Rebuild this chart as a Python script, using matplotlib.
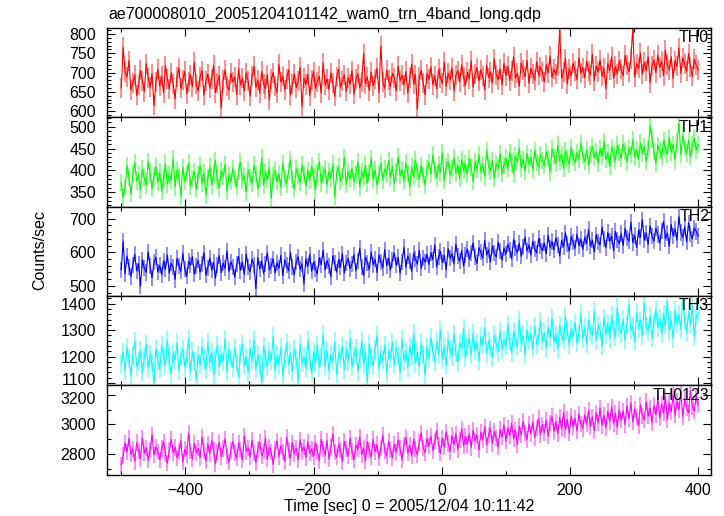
import numpy as np
import matplotlib
matplotlib.use('Agg')
from matplotlib import pyplot as plt
from matplotlib.ticker import MultipleLocator
import matplotlib.transforms as mtrans

# light curve: 3 s bins starting at t = -500 s
t_start = -500.0
bin_sec = 3.0

th0 = [660, 765, 702, 688, 731, 655, 672, 694, 641, 668, 706, 679, 650, 723, 686, 662, 697, 615, 675, 709,
       664, 691, 647, 718, 683, 657, 699, 671, 632, 688, 712, 659, 681, 703, 645, 676, 694, 663, 727, 670,
       652, 689, 705, 641, 678, 696, 660, 684, 719, 648, 673, 692, 608, 681, 707, 666, 654, 698, 675, 689,
       643, 710, 668, 685, 652, 699, 677, 639, 691, 716, 662, 680, 647, 703, 671, 658, 694, 629, 682, 700,
       666, 648, 721, 675, 690, 655, 684, 707, 642, 670, 697, 661, 678, 714, 612, 686, 669, 695, 640, 681,
       702, 659, 676, 691, 647, 724, 668, 683, 656, 699, 673, 638, 688, 709, 662, 679, 694, 651, 687, 670,
       705, 644, 682, 697, 660, 676, 749, 671, 689, 653, 701, 666, 684, 711, 648, 768, 675, 659, 706, 680,
       664, 698, 687, 652, 717, 679, 693, 668, 703, 646, 685, 722, 671, 694, 605, 688, 706, 674, 642, 697,
       683, 715, 669, 691, 657, 708, 686, 672, 727, 664, 699, 681, 712, 653, 693, 705, 676, 720, 688, 667,
       701, 684, 730, 662, 696, 713, 678, 707, 690, 655, 719, 687, 702, 673, 735, 694, 681, 709, 668, 724,
       692, 716, 679, 703, 741, 686, 698, 665, 725, 707, 689, 732, 672, 711, 697, 680, 728, 693, 714, 701,
       676, 720, 699, 743, 688, 708, 695, 717, 812, 684, 702, 736, 671, 710, 691, 725, 704, 682, 739, 698,
       713, 687, 729, 705, 694, 748, 679, 718, 701, 733, 690, 711, 658, 724, 706, 740, 685, 716, 697, 730,
       708, 691, 745, 719, 702, 736, 815, 688, 723, 711, 751, 696, 727, 705, 742, 674, 718, 733, 700, 746,
       713, 729, 692, 758, 720, 707, 741, 685, 731, 716, 764, 698, 738, 722, 703, 749, 715, 690, 734, 719,
       706]

th1 = [372, 338, 361, 410, 385, 347, 392, 418, 376, 389, 355, 403, 381, 366, 421, 394, 358, 387, 409, 373,
       396, 352, 384, 415, 369, 391, 378, 426, 362, 400, 386, 341, 407, 375, 393, 417, 364, 382, 398, 356,
       389, 411, 371, 395, 343, 384, 408, 367, 392, 423, 377, 360, 399, 386, 414, 353, 390, 374, 405, 381,
       363, 397, 419, 378, 387, 351, 402, 384, 370, 412, 393, 358, 381, 428, 366, 395, 379, 406, 336, 388,
       401, 374, 392, 361, 416, 383, 369, 397, 425, 380, 357, 404, 388, 372, 413, 391, 364, 399, 378, 410,
       386, 355, 394, 420, 371, 389, 403, 367, 398, 382, 415, 340, 393, 408, 376, 385, 430, 368, 397, 381,
       405, 374, 391, 419, 362, 398, 384, 412, 371, 395, 427, 380, 401, 366, 389, 416, 377, 403, 392, 423,
       384, 409, 370, 396, 431, 388, 402, 375, 417, 393, 362, 408, 386, 424, 398, 379, 411, 391, 367, 404,
       418, 392, 435, 401, 383, 413, 396, 440, 377, 409, 421, 389, 405, 429, 394, 412, 381, 425, 400, 415,
       391, 427, 408, 374, 419, 403, 436, 396, 414, 387, 445, 410, 399, 423, 382, 416, 405, 438, 393, 412,
       428, 404, 441, 417, 392, 433, 420, 451, 406, 425, 398, 439, 414, 430, 401, 446, 419, 408, 436, 423,
       411, 443, 427, 396, 449, 432, 416, 458, 421, 437, 404, 445, 428, 413, 452, 430, 418, 441, 426, 462,
       434, 420, 447, 412, 438, 455, 429, 443, 417, 450, 432, 466, 425, 440, 409, 453, 436, 423, 458, 441,
       428, 461, 445, 419, 452, 437, 470, 431, 448, 426, 463, 440, 455, 421, 449, 502, 472, 443, 416, 457,
       446, 430, 468, 451, 437, 475, 442, 459, 424, 465, 508, 436, 480, 453, 440, 469, 432, 458, 474, 447,
       460]

th2 = [548, 632, 536, 589, 557, 528, 563, 594, 545, 566, 499, 578, 552, 540, 601, 559, 524, 570, 585, 542,
       561, 533, 575, 549, 592, 538, 567, 555, 519, 582, 560, 544, 597, 551, 529, 573, 562, 587, 535, 558,
       576, 541, 565, 599, 532, 554, 583, 547, 570, 523, 561, 590, 539, 568, 552, 604, 543, 572, 557, 526,
       564, 588, 546, 571, 534, 595, 556, 542, 579, 563, 492, 585, 550, 574, 537, 566, 598, 548, 560, 581,
       539, 569, 553, 591, 530, 577, 562, 545, 600, 556, 533, 572, 587, 549, 566, 507, 580, 558, 593, 544,
       571, 550, 536, 584, 563, 607, 547, 575, 559, 528, 590, 567, 541, 578, 555, 596, 538, 569, 582, 551,
       566, 593, 545, 574, 612, 557, 531, 586, 569, 548, 601, 563, 579, 540, 592, 572, 554, 608, 560, 583,
       547, 576, 598, 561, 585, 538, 570, 615, 556, 589, 573, 543, 597, 580, 565, 606, 552, 584, 571, 594,
       563, 599, 578, 622, 557, 587, 603, 570, 591, 548, 611, 582, 596, 566, 624, 588, 574, 605, 559, 593,
       610, 579, 597, 628, 585, 567, 614, 600, 583, 635, 592, 608, 571, 619, 597, 586, 630, 603, 577, 612,
       595, 624, 606, 581, 638, 613, 599, 627, 588, 617, 645, 604, 622, 592, 633, 610, 598, 641, 619, 605,
       628, 596, 651, 614, 632, 607, 643, 621, 589, 636, 616, 658, 625, 603, 647, 630, 612, 654, 620, 639,
       609, 645, 627, 668, 618, 636, 601, 652, 631, 622, 675, 640, 614, 659, 633, 648, 605, 662, 637, 626,
       656, 620, 671, 642, 633, 689, 629, 650, 614, 666, 645, 697, 637, 658, 623, 679, 648, 634, 672, 653,
       627, 664, 692, 641, 657, 618, 683, 649, 670, 636, 706, 659, 644, 676, 631, 688, 655, 640, 673, 662,
       648]

th3 = [1172, 1215, 1148, 1236, 1190, 1127, 1204, 1258, 1163, 1181, 1222, 1139, 1197, 1245, 1156, 1210, 1176, 1098, 1229, 1185,
       1153, 1241, 1198, 1166, 1262, 1179, 1134, 1213, 1187, 1250, 1145, 1201, 1228, 1162, 1193, 1270, 1141, 1219, 1183, 1112,
       1206, 1169, 1237, 1188, 1150, 1255, 1175, 1216, 1131, 1194, 1243, 1160, 1209, 1181, 1267, 1144, 1225, 1192, 1158, 1233,
       1178, 1121, 1211, 1247, 1165, 1199, 1140, 1230, 1186, 1264, 1152, 1207, 1173, 1101, 1240, 1195, 1161, 1221, 1184, 1276,
       1147, 1203, 1170, 1235, 1126, 1191, 1252, 1167, 1214, 1142, 1229, 1187, 1108, 1246, 1176, 1200, 1155, 1261, 1189, 1138,
       1218, 1174, 1242, 1159, 1196, 1283, 1164, 1223, 1146, 1207, 1181, 1256, 1133, 1212, 1194, 1238, 1151, 1227, 1179, 1268,
       1161, 1205, 1232, 1143, 1190, 1259, 1172, 1217, 1104, 1248, 1196, 1166, 1227, 1279, 1154, 1209, 1186, 1244, 1137, 1220,
       1193, 1253, 1168, 1231, 1204, 1140, 1266, 1185, 1221, 1157, 1240, 1199, 1287, 1174, 1215, 1162, 1249, 1208, 1131, 1236,
       1197, 1272, 1219, 1180, 1256, 1209, 1298, 1188, 1240, 1165, 1263, 1226, 1201, 1285, 1213, 1177, 1251, 1230, 1306, 1194,
       1237, 1268, 1205, 1289, 1222, 1252, 1183, 1275, 1244, 1310, 1211, 1259, 1232, 1196, 1281, 1248, 1219, 1297, 1227, 1263,
       1240, 1320, 1255, 1214, 1294, 1267, 1236, 1338, 1251, 1279, 1206, 1302, 1260, 1286, 1228, 1315, 1246, 1273, 1332, 1258,
       1290, 1232, 1309, 1271, 1345, 1254, 1283, 1225, 1318, 1277, 1261, 1351, 1296, 1243, 1305, 1274, 1329, 1252, 1287, 1360,
       1268, 1311, 1247, 1337, 1292, 1279, 1372, 1261, 1318, 1300, 1239, 1346, 1284, 1326, 1266, 1355, 1297, 1275, 1385, 1308,
       1287, 1341, 1262, 1323, 1395, 1299, 1314, 1256, 1366, 1305, 1338, 1280, 1402, 1317, 1294, 1352, 1271, 1330, 1378, 1309,
       1346, 1285, 1361, 1320, 1408, 1297, 1339, 1268, 1374, 1325, 1357, 1303, 1415, 1334, 1290, 1368, 1321, 1392, 1276, 1350,
       1365]

th0123 = [2725, 2790, 2876, 2812, 2905, 2798, 2833, 2750, 2878, 2821, 2769, 2909, 2806, 2843, 2758, 2827, 2931, 2795, 2850, 2814,
          2762, 2838, 2883, 2801, 2738, 2826, 2900, 2809, 2845, 2774, 2817, 2888, 2745, 2832, 2797, 2941, 2823, 2766, 2872, 2808,
          2840, 2776, 2915, 2819, 2752, 2869, 2803, 2891, 2828, 2733, 2815, 2880, 2783, 2837, 2902, 2789, 2744, 2824, 2886, 2811,
          2771, 2875, 2829, 2759, 2924, 2816, 2842, 2778, 2893, 2807, 2741, 2835, 2881, 2786, 2820, 2907, 2764, 2846, 2813, 2730,
          2831, 2889, 2782, 2858, 2815, 2748, 2914, 2825, 2773, 2877, 2803, 2839, 2761, 2896, 2818, 2849, 2777, 2882, 2806, 2834,
          2784, 2876, 2821, 2755, 2900, 2836, 2792, 2890, 2767, 2844, 2937, 2812, 2779, 2863, 2827, 2750, 2886, 2832, 2788, 2905,
          2818, 2762, 2861, 2833, 2917, 2796, 2840, 2754, 2882, 2825, 2780, 2898, 2814, 2865, 2771, 2843, 2928, 2820, 2785, 2887,
          2829, 2775, 2868, 2811, 2896, 2840, 2758, 2863, 2913, 2807, 2857, 2788, 2900, 2832, 2796, 2878, 2944, 2843, 2809, 2906,
          2852, 2921, 2823, 2888, 2958, 2860, 2805, 2909, 2847, 2950, 2870, 2816, 2925, 2862, 2937, 2831, 2893, 2972, 2857, 2919,
          2865, 2940, 2844, 2962, 2889, 2931, 2826, 2948, 2896, 2985, 2863, 2929, 2971, 2872, 2954, 2907, 2848, 2966, 2915, 2998,
          2888, 2977, 2926, 3008, 2902, 2965, 2864, 2989, 2931, 3022, 2940, 2899, 3004, 2938, 3015, 2911, 2976, 3041, 2933, 2999,
          2945, 3028, 2921, 3010, 3054, 2952, 3018, 2936, 3047, 2969, 3081, 2962, 3033, 2940, 3060, 2984, 3042, 2955, 3070, 3005,
          2973, 3066, 3001, 3095, 2986, 3052, 2958, 3078, 3010, 3109, 2993, 3064, 2977, 3089, 3020, 3118, 3005, 3075, 2982, 3101,
          3028, 3092, 3000, 3124, 3039, 3146, 3017, 3105, 3051, 2992, 3133, 3060, 3031, 3155, 3056, 3112, 3009, 3128, 3067, 3170,
          3044, 3137, 3076, 3188, 3030, 3145, 3087, 3202, 3063, 3160, 3099, 3215, 3054, 3171, 3112, 3078, 3226, 3121, 3089, 3194,
          3133]

series = [th0, th1, th2, th3, th0123]
names = ['TH0', 'TH1', 'TH2', 'TH3', 'TH0123']
errors = [26, 20, 24, 35, 55]
colors = ['#ff0000', '#00ff00', '#0000ff', '#00ffff', '#ff00ff']
ylims = [(584, 816), (317, 522), (470, 736), (1091, 1429), (2660, 3265)]
yticks = [[600, 650, 700, 750, 800], [350, 400, 450, 500], [500, 600, 700],
          [1100, 1200, 1300, 1400], [2800, 3000, 3200]]
yminor = [10, 10, 20, 20, 100]

fs = 11.5
plt.rcParams.update({'font.size': fs,
                     'font.family': ['Liberation Sans', 'DejaVu Sans']})

fig, axes = plt.subplots(5, 1, sharex=True, figsize=(7.24, 5.16), dpi=100)
fig.subplots_adjust(left=0.148, right=0.982, top=0.946, bottom=0.080, hspace=0)

for ax, y, name, err, c, yl, yt, ym in zip(axes, series, names, errors, colors,
                                           ylims, yticks, yminor):
    y = np.array(y, dtype=float)
    t = t_start + bin_sec * np.arange(len(y))
    ax.vlines(t, y - err, y + err, color=c, alpha=0.45, lw=1.4)
    ax.plot(t, y, color=c, lw=0.8)
    ax.set_ylim(yl)
    ax.set_yticks(yt)
    ax.yaxis.set_minor_locator(MultipleLocator(ym))
    ax.xaxis.set_major_locator(MultipleLocator(200))
    ax.xaxis.set_minor_locator(MultipleLocator(100))
    ax.tick_params(which='both', direction='in', top=True, right=True,
                   width=0.8, labelsize=fs)
    ax.tick_params(which='major', length=6)
    ax.tick_params(which='minor', length=3)
    ax.tick_params(axis='y', pad=8)
    ax.tick_params(axis='x', pad=6)
    for s in ax.spines.values():
        s.set_linewidth(1.0)
    ax.text(0.997, 0.89, name, transform=ax.transAxes, ha='right', va='center',
            fontsize=fs)

axes[-1].set_xlim(-522, 420)

# keep the 1100 / 3200 labels at the panel joint apart
fig.canvas.draw()
lab_1100 = axes[3].get_yticklabels()[0]
lab_1100.set_transform(lab_1100.get_transform() +
                       mtrans.ScaledTranslation(0, 2.5/72, fig.dpi_scale_trans))
lab_3200 = axes[4].get_yticklabels()[-1]
lab_3200.set_transform(lab_3200.get_transform() +
                       mtrans.ScaledTranslation(0, -2.5/72, fig.dpi_scale_trans))

fig.text(108/724, 1 - 14/516, 'ae700008010_20051204101142_wam0_trn_4band_long.qdp',
         ha='left', va='center', fontsize=fs)
fig.text(40/724, 1 - 250/516, 'Counts/sec', rotation=90, ha='center', va='center',
         fontsize=fs)
fig.text(409/724, 1 - 506/516, 'Time [sec] 0 = 2005/12/04 10:11:42',
         ha='center', va='center', fontsize=fs)

plt.savefig('out.png', dpi=100)
